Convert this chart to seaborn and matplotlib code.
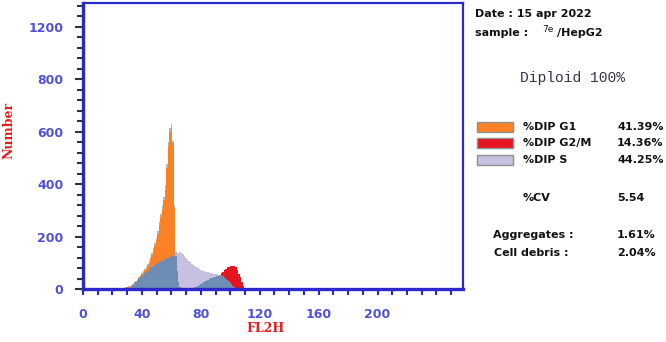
import numpy as np
import pandas as pd
import seaborn as sns
import matplotlib.pyplot as plt
from matplotlib.ticker import MultipleLocator
from matplotlib.patches import Rectangle

# histogram layers (channel -> number of events)
total_ch = list(range(28, 64))
total_counts = [5, 7, 9, 11, 13, 16, 20, 26, 32, 39,
                46, 54, 62, 70, 77, 85, 95, 108, 122, 137,
                155, 174, 196, 222, 255, 286, 315, 352, 395, 478,
                560, 612, 628, 565, 320, 140]

g1_ch = list(range(28, 64))
g1_counts = [3, 4, 6, 7, 9, 12, 16, 21, 27, 34,
             41, 49, 57, 64, 71, 78, 88, 100, 114, 128,
             145, 163, 185, 210, 243, 273, 300, 338, 378, 462,
             545, 598, 612, 555, 310, 130]

s_ch = list(range(63, 96))
s_counts = [130, 135, 138, 140, 139, 134, 126, 118, 112, 107,
            102, 97, 92, 87, 83, 79, 76, 73, 70, 68,
            66, 64, 63, 62, 60, 59, 58, 57, 56, 55,
            54, 53, 52]

g2_ch = list(range(93, 111))
g2_counts = [50, 60, 66, 72, 78, 82, 85, 87, 88, 87,
             86, 82, 72, 58, 44, 28, 12, 3]

base_ch = list(range(32, 105))
base_counts = [4, 8, 14, 20, 26, 32, 38, 44, 50, 55,
               60, 65, 70, 75, 80, 84, 88, 92, 96, 99,
               102, 105, 108, 111, 114, 117, 120, 122, 124, 126,
               128, 125, 70, 25, 8, 4, 3, 3, 3, 3,
               3, 4, 4, 5, 6, 8, 12, 16, 20, 23,
               26, 29, 32, 35, 38, 41, 43, 45, 47, 49,
               51, 53, 55, 50, 45, 40, 35, 30, 24, 19,
               13, 7, 2]

x_ticks = [0, 40, 80, 120, 160, 200]
y_ticks = [0, 200, 400, 600, 800, 1000]
y_tick_labels = ["0", "200", "400", "600", "800", "1200"]

legend_names = ["%DIP G1", "%DIP G2/M", "%DIP S"]
legend_values = ["41.39%", "14.36%", "44.25%"]

W, H = 666, 342
def fx(px):
    return px / W
def fy(py):
    return 1 - py / H

sns.set_style("white")

grey = "#b5b5b5"
orange = "#fb8127"
red = "#e5141f"
lavender = "#c7c0e1"
blue = "#6e8db4"
frame = "#2a2acb"
ticklab = "#5050dd"

fig = plt.figure(figsize=(6.66, 3.42), dpi=100)
ax = fig.add_axes([fx(83), fy(289), fx(463) - fx(83), fy(3) - fy(289)])

layers = [(total_ch, total_counts, grey), (g1_ch, g1_counts, orange),
          (s_ch, s_counts, lavender), (g2_ch, g2_counts, red),
          (base_ch, base_counts, blue)]
for ch, cnt, col in layers:
    sns.histplot(x=ch, weights=cnt, discrete=True, element="step", fill=True,
                 color=col, alpha=1, linewidth=0, ax=ax)

ax.set_xlim(0, 258)
ax.set_ylim(0, 1090)
ax.set_xlabel("")
ax.set_ylabel("")

ax.set_xticks(x_ticks)
ax.set_xticklabels([str(v) for v in x_ticks])
ax.xaxis.set_minor_locator(MultipleLocator(10))
ax.set_yticks(y_ticks)
ax.set_yticklabels(y_tick_labels)
ax.yaxis.set_minor_locator(MultipleLocator(40))

ax.tick_params(axis="x", which="both", direction="out", length=4, width=1.5,
               color=frame, pad=10, labelsize=9, labelcolor=ticklab, bottom=True)
ax.tick_params(axis="y", which="major", direction="out", length=6, width=1.5,
               color="#333333", pad=8, labelsize=9, labelcolor=ticklab, left=True)
ax.tick_params(axis="y", which="minor", direction="out", length=4, width=1.5,
               color="#333333", left=True)
for lab in ax.get_xticklabels() + ax.get_yticklabels():
    lab.set_fontweight("bold")

for side in ["left", "bottom"]:
    ax.spines[side].set_color(frame)
    ax.spines[side].set_linewidth(2.4)
for side in ["top", "right"]:
    ax.spines[side].set_color(frame)
    ax.spines[side].set_linewidth(1.6)

serif = dict(family="DejaVu Serif", fontweight="bold", color="#e51c1c", fontsize=9)
fig.text(fx(9), fy(130), "Number", rotation=90, ha="center", va="center", **serif)
fig.text(fx(266), fy(329), "FL2H", ha="center", va="center", **serif)

side = dict(family="DejaVu Sans", fontweight="bold", color="#111111", fontsize=8)
fig.text(fx(475), fy(14), "Date : 15 apr 2022", ha="left", va="center", **side)
fig.text(fx(475), fy(33), "sample :", ha="left", va="center", **side)
fig.text(fx(542), fy(29), "7e", ha="left", va="center", family="DejaVu Sans",
         fontsize=6.5, color="#111111")
fig.text(fx(557), fy(33), "/HepG2", ha="left", va="center", **side)
fig.text(fx(572), fy(78), "Diploid 100%", ha="center", va="center",
         family="Liberation Mono", fontsize=10.5, color="#33334a")

box_y = [127, 143, 160]
box_col = [orange, red, lavender]
for yy, col, name, val in zip(box_y, box_col, legend_names, legend_values):
    fig.add_artist(Rectangle((fx(477), fy(yy + 5)), fx(513) - fx(477), 10 / H,
                             transform=fig.transFigure, facecolor=col,
                             edgecolor="#909090", linewidth=1))
    fig.text(fx(523), fy(yy), name, ha="left", va="center", **side)
    fig.text(fx(617), fy(yy), val, ha="left", va="center", **side)

fig.text(fx(523), fy(198), "%CV", ha="left", va="center", **side)
fig.text(fx(617), fy(198), "5.54", ha="left", va="center", **side)
fig.text(fx(493), fy(235), "Aggregates :", ha="left", va="center", **side)
fig.text(fx(617), fy(235), "1.61%", ha="left", va="center", **side)
fig.text(fx(494), fy(253), "Cell debris :", ha="left", va="center", **side)
fig.text(fx(617), fy(253), "2.04%", ha="left", va="center", **side)

fig.savefig("out.png", dpi=100)
